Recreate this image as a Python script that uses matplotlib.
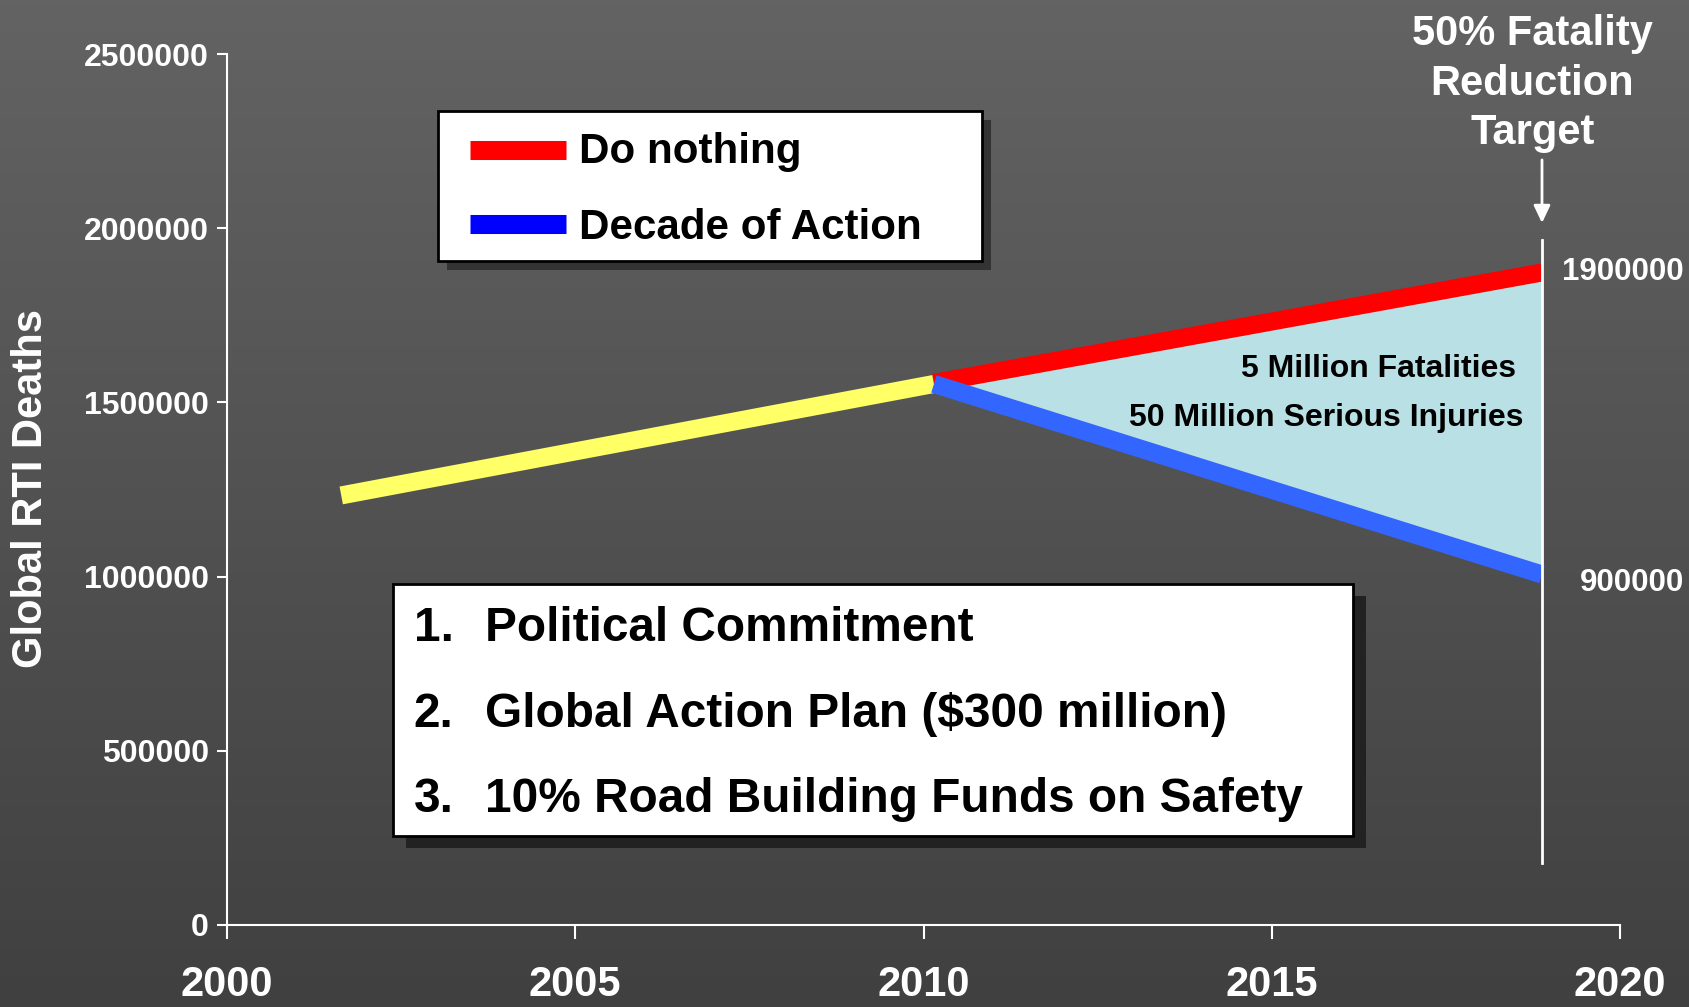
import numpy as np
import matplotlib
matplotlib.use("Agg")
import matplotlib.pyplot as plt
from matplotlib.patches import Rectangle
from matplotlib.lines import Line2D
from matplotlib.colors import LinearSegmentedColormap
from matplotlib.transforms import offset_copy

plt.rcParams['font.family'] = ['Liberation Sans', 'DejaVu Sans']
plt.rcParams['font.weight'] = 'bold'

# ── data ──
years_trend = [2001.64, 2010.15]
deaths_trend = [1233000, 1553000]
years_proj = [2010.15, 2018.88]
deaths_nothing = [1556000, 1873000]
deaths_action = [1553000, 1006000]
target_year = 2018.88
target_span = [178000, 1966000]
arrow_span = [2196000, 2015000]
label_nothing = "1900000"
label_action = "900000"
legend_labels = ["Do nothing", "Decade of Action"]
legend_colors = ["#ff0000", "#0000ff"]
gap_text = ["5 Million Fatalities", "50 Million Serious Injuries"]
measures = ["Political Commitment",
            "Global Action Plan ($300 million)",
            "10% Road Building Funds on Safety"]
x_ticks = [2000, 2005, 2010, 2015, 2020]
y_ticks = [0, 500000, 1000000, 1500000, 2000000, 2500000]

fig = plt.figure(figsize=(16.9, 10.07), dpi=100)

# gradient background
bg = fig.add_axes([0, 0, 1, 1], zorder=-10)
grad = np.linspace(0, 1, 256).reshape(-1, 1)
bg.imshow(grad, aspect='auto', extent=[0, 1, 0, 1], origin='upper',
          cmap=LinearSegmentedColormap.from_list('bg', ['#636363', '#404040']))
bg.axis('off')

ax = fig.add_axes([227 / 1690, 1 - 925 / 1007, 1393 / 1690, 871 / 1007])
ax.set_zorder(1)
ax.patch.set_alpha(0)

# ── gap + lines ──
ax.fill_between(years_proj, deaths_action, deaths_nothing, color='#b9e0e4', lw=0, zorder=1)
ax.plot(years_proj, deaths_nothing, color='#ff0000', lw=13, solid_capstyle='butt', zorder=2)
ax.plot(years_trend, deaths_trend, color='#ffff66', lw=13, solid_capstyle='butt', zorder=3)
ax.plot(years_proj, deaths_action, color='#3366ff', lw=13, solid_capstyle='butt', zorder=4)

# target marker
ax.plot([target_year, target_year], target_span, color='white', lw=2, zorder=5)
ax.annotate('', xy=(target_year, arrow_span[1]), xytext=(target_year, arrow_span[0]),
            arrowprops=dict(arrowstyle='-|>,head_length=1.05,head_width=0.5',
                            color='white', lw=2, shrinkA=0, shrinkB=0))
fig.text(0.9068, 0.917, "50% Fatality\nReduction\nTarget", ha='center', va='center',
         fontsize=30, color='white', linespacing=1.3)

ax.annotate(label_nothing, xy=(1.046, deaths_nothing[-1]), xycoords=('axes fraction', 'data'),
            xytext=(0, 0), textcoords='offset pixels', ha='right', va='center',
            fontsize=22.5, color='white', annotation_clip=False)
ax.annotate(label_action, xy=(1.046, deaths_action[-1]), xycoords=('axes fraction', 'data'),
            xytext=(0, -8), textcoords='offset pixels', ha='right', va='center',
            fontsize=22.5, color='white', annotation_clip=False)

ax.text(0.9253, 0.6295, gap_text[0], transform=ax.transAxes, ha='right', va='baseline',
        fontsize=23, color='black', zorder=6)
ax.text(0.9304, 0.5729, gap_text[1], transform=ax.transAxes, ha='right', va='baseline',
        fontsize=23, color='black', zorder=6)

# ── axes styling ──
ax.set_xlim(2000, 2020)
ax.set_ylim(0, 2500000)
ax.set_xticks(x_ticks)
ax.set_yticks(y_ticks)
ax.set_xticklabels([str(t) for t in x_ticks])
ax.set_yticklabels([str(t) for t in y_ticks])
for s in ['top', 'right']:
    ax.spines[s].set_visible(False)
for s in ['left', 'bottom']:
    ax.spines[s].set_color('white')
    ax.spines[s].set_linewidth(1.5)
ax.tick_params(axis='x', length=10, width=1.5, colors='white', labelsize=30, pad=19)
ax.tick_params(axis='y', length=7, width=1.5, colors='white', labelsize=23, pad=6.2)
fig.text(0.0182, 1 - 488 / 1007, "Global RTI Deaths", rotation=90, ha='center', va='center',
         fontsize=30, color='white')

# ── legend box (drawn by hand, with drop shadow) ──
lx, ly, lw_, lh = 0.1512, 0.7626, 0.3907, 0.172
ax.add_patch(Rectangle((lx, ly), lw_, lh, fc='#333333', ec='none', zorder=7, clip_on=False,
                       transform=offset_copy(ax.transAxes, fig=fig, x=9, y=-9, units='dots')))
ax.add_patch(Rectangle((lx, ly), lw_, lh, fc='white', ec='black', lw=2, zorder=8,
                       clip_on=False, transform=ax.transAxes))
for lab, col, yl, yb in zip(legend_labels, legend_colors, [0.8898, 0.8048], [0.8752, 0.7872]):
    ax.add_line(Line2D([0.1744, 0.2434], [yl, yl], transform=ax.transAxes, color=col,
                       lw=13.7, solid_capstyle='butt', zorder=9, clip_on=False))
    ax.text(0.2527, yb, lab, transform=ax.transAxes, fontsize=30.3, va='baseline',
            color='black', zorder=9)

# ── measures box ──
bx, by, bw, bh = 0.1195, 0.1022, 0.6888, 0.2893
ax.add_patch(Rectangle((bx, by), bw, bh, fc='#222222', ec='none', zorder=7, clip_on=False,
                       transform=offset_copy(ax.transAxes, fig=fig, x=13, y=-12, units='dots')))
ax.add_patch(Rectangle((bx, by), bw, bh, fc='white', ec='black', lw=2, zorder=8,
                       clip_on=False, transform=ax.transAxes))
for i, (m, yb) in enumerate(zip(measures, [0.3264, 0.2273, 0.1297])):
    ax.text(0.134, yb, f"{i + 1}.", transform=ax.transAxes, fontsize=34.4, va='baseline',
            color='black', zorder=9)
    ax.text(0.1852, yb, m, transform=ax.transAxes, fontsize=34.4, va='baseline',
            color='black', zorder=9)

fig.savefig("out.png", dpi=100)
plt.close(fig)
